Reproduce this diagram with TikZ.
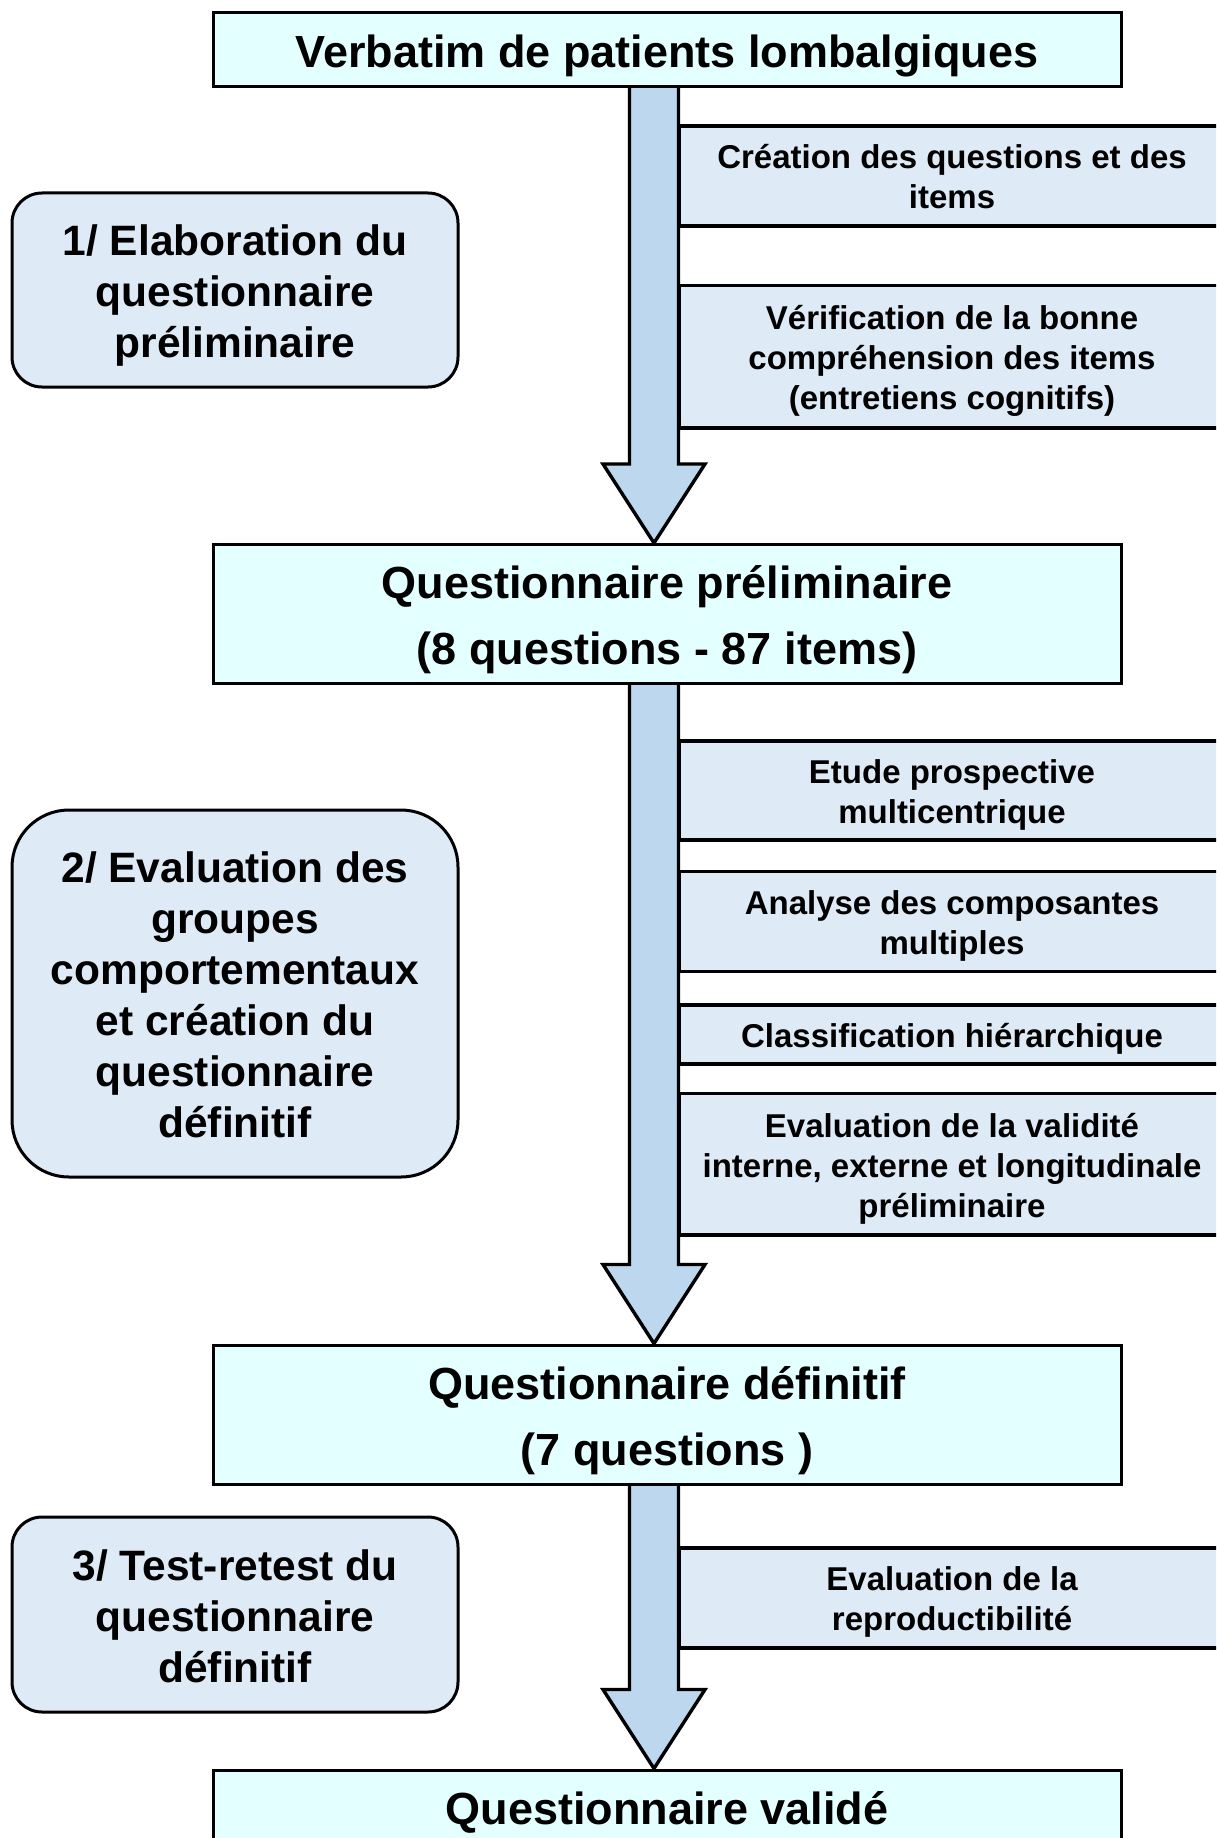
\documentclass[tikz,border=0pt]{standalone}
\usepackage{fontspec}
\setmainfont{Liberation Sans}
\definecolor{mainfill}{HTML}{E3FFFF}
\definecolor{stepfill}{HTML}{DEEBF7}
\definecolor{arrowfill}{HTML}{BDD7EE}
\newcommand\tstr{\rule{0pt}{1.05em}}
\newcommand\bstr{\rule[-0.27em]{0pt}{0pt}}
\tikzset{
  mainbox/.style={draw=black, line width=3pt, fill=mainfill, minimum width=908pt, inner sep=0pt, align=center,
    font=\fontsize{45}{66}\selectfont\bfseries},
  stepbox/.style={draw=black, line width=3.4pt, fill=stepfill, minimum width=546pt, inner sep=0pt, align=center,
    font=\fontsize{33}{40}\selectfont\bfseries},
  phasebox/.style={draw=black, line width=3pt, fill=stepfill, minimum width=446pt, inner sep=0pt, align=center,
    font=\fontsize{42.5}{51}\selectfont\bfseries},
  bigarrow/.style={draw=black, line width=3.4pt, fill=arrowfill, line join=miter},
}
\begin{document}
\begin{tikzpicture}[x=1pt,y=-1pt]
\useasboundingbox (0,0) rectangle (1216,1838);
\clip (0,0) rectangle (1216,1838);
\fill[white] (0,0) rectangle (1216,1838);

% axis of the arrows
\coordinate (ax) at (654,0);

% main boxes (positions; redrawn later on top of the arrow ends)
\path (667,49.5) node[mainbox, minimum height=74pt] (v) {\tstr Verbatim de patients lombalgiques\bstr};
\path (667,614) node[mainbox, minimum height=139pt] (qp) {\tstr Questionnaire préliminaire\\(8 questions - 87 items)\bstr};
\path (667,1414.5) node[mainbox, minimum height=139pt] (qd) {\tstr Questionnaire définitif\\(7 questions )\bstr};
\path (667,1807) node[mainbox, minimum height=74pt] (qv) {\tstr Questionnaire validé\bstr};

% arrows
\path (v.south -| ax) coordinate (a1s) (qp.north -| ax) coordinate (a1t);
\path (qp.south -| ax) coordinate (a2s) (qd.north -| ax) coordinate (a2t);
\path (qd.south -| ax) coordinate (a3s) (qv.north -| ax) coordinate (a3t);
\foreach \s/\t in {a1s/a1t, a2s/a2t, a3s/a3t}{
  \draw[bigarrow] ([xshift=-24.5pt]\s) -- ([xshift=-24.5pt,yshift=79pt]\t) -- ([xshift=-51pt,yshift=79pt]\t)
    -- (\t) -- ([xshift=51pt,yshift=79pt]\t) -- ([xshift=24.5pt,yshift=79pt]\t) -- ([xshift=24.5pt]\s);
}

% step boxes
\node[stepbox, minimum height=100pt] (s1) at (952,176) {\tstr Création des questions et des\\items\bstr};
\node[stepbox, minimum height=142.5pt] (s2) at (952,356.75) {\tstr Vérification de la bonne\\compréhension des items\\(entretiens cognitifs)\bstr};
\node[stepbox, minimum height=99pt] (s3) at (952,790.5) {\tstr Etude prospective\\multicentrique\bstr};
\node[stepbox, minimum height=100pt] (s4) at (952,921.5) {\tstr Analyse des composantes\\multiples\bstr};
\node[stepbox, minimum height=59pt] (s5) at (952,1034.5) {\tstr Classification hiérarchique\bstr};
\node[stepbox, minimum height=141.5pt] (s6) at (952,1164.25) {\tstr Evaluation de la validité\\interne, externe et longitudinale\\préliminaire\bstr};
\node[stepbox, minimum height=100pt] (s7) at (952,1598) {\tstr Evaluation de la\\reproductibilité\bstr};

% phase boxes
\node[phasebox, rounded corners=30pt, minimum height=194pt] (p1) at (235,290) {\tstr 1/ Elaboration du\\questionnaire\\préliminaire\bstr};
\node[phasebox, rounded corners=57pt, minimum height=367pt] (p2) at (235,993.5) {\tstr 2/ Evaluation des\\groupes\\comportementaux\\et création du\\questionnaire\\définitif\bstr};
\node[phasebox, rounded corners=30pt, minimum height=195pt] (p3) at (235,1614.5) {\tstr 3/ Test-retest du\\questionnaire\\définitif\bstr};

% main boxes drawn on top of arrow ends
\node[mainbox, minimum height=74pt] at (v) {\tstr Verbatim de patients lombalgiques\bstr};
\node[mainbox, minimum height=139pt] at (qp) {\tstr Questionnaire préliminaire\\(8 questions - 87 items)\bstr};
\node[mainbox, minimum height=139pt] at (qd) {\tstr Questionnaire définitif\\(7 questions )\bstr};
\node[mainbox, minimum height=74pt] at (qv) {\tstr Questionnaire validé\bstr};
\end{tikzpicture}
\end{document}
